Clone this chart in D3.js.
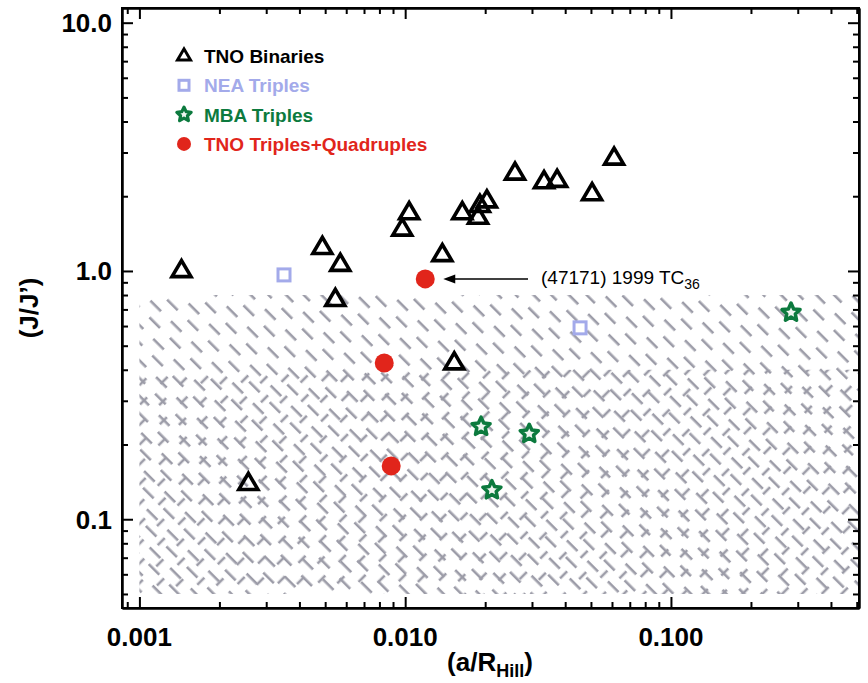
<!DOCTYPE html>
<html>
<head>
<meta charset="utf-8">
<script src="https://cdn.jsdelivr.net/npm/d3@7"></script>
<style>
  body { margin: 0; background: #fff; }
  svg { font-family: "Liberation Sans", Arial, Helvetica, sans-serif; }
  .tick-label { font-weight: bold; font-size: 26px; }
  .axis path, .axis line { stroke: #000; stroke-width: 2; }
</style>
</head>
<body>
<svg id="chart"></svg>
<script>
// data: [a/R_Hill, J/J']
const tnoBinaries = [
  [0.00144, 1.00], [0.00257, 0.139], [0.00488, 1.24], [0.0057, 1.06], [0.00546, 0.765],
  [0.00975, 1.47], [0.01035, 1.71], [0.0138, 1.16], [0.0153, 0.425], [0.0164, 1.71],
  [0.0188, 1.64], [0.0191, 1.83], [0.0203, 1.91], [0.0259, 2.47], [0.0333, 2.28],
  [0.0373, 2.31], [0.0505, 2.04], [0.0611, 2.84]
];
const neaTriples = [[0.0035, 0.964], [0.0455, 0.590]];
const mbaTriples = [[0.0193, 0.236], [0.0293, 0.221], [0.0212, 0.131], [0.283, 0.680]];
const tnoTriples = [[0.0119, 0.929], [0.00834, 0.426], [0.00886, 0.164]];

const xMajor = [0.001, 0.01, 0.1];
const yMajor = [0.1, 1, 10];
const xTickLabels = ["0.001", "0.010", "0.100"];
const yTickLabels = ["0.1", "1.0", "10.0"];

// shaded (excluded) zone
const hatchX = [0.001, 0.51];
const hatchY = [0.05, 0.8];
const crossY = [0.05, 0.4];

const legendItems = [
  {label: "TNO Binaries", color: "#000", sym: "tri"},
  {label: "NEA Triples", color: "#a3aaea", sym: "sq"},
  {label: "MBA Triples", color: "#0c7a3e", sym: "star"},
  {label: "TNO Triples+Quadruples", color: "#e1251b", sym: "dot"}
];

const W = 868, H = 683;
const svg = d3.select("#chart").attr("width", W).attr("height", H);

const x = d3.scaleLog().domain([0.00086, 0.51]).range([122, 859]);
const y = d3.scaleLog().domain([0.0439, 11.46]).range([608, 8]);

// hatch patterns: dashed lines, staggered row to row, then rotated
const defs = svg.append("defs");
function makePattern(id, angle, period, gap, len, shift) {
  const p = defs.append("pattern").attr("id", id)
    .attr("patternUnits", "userSpaceOnUse")
    .attr("width", period).attr("height", gap * 2)
    .attr("patternTransform", `rotate(${angle})`);
  [0, 1].forEach(r => {
    const off = r * shift;
    [-period, 0, period].forEach(k => {
      p.append("line")
        .attr("x1", off + k).attr("y1", gap * r + gap / 2)
        .attr("x2", off + k + len).attr("y2", gap * r + gap / 2)
        .attr("stroke", "#9c9ca8").attr("stroke-width", 2.6);
    });
  });
}
makePattern("hatchA", 45, 29, 12.5, 15, 11);
makePattern("hatchB", -45, 29, 14, 10, 16);

svg.append("rect")
  .attr("x", x(hatchX[0])).attr("y", y(hatchY[1]))
  .attr("width", x(hatchX[1]) - x(hatchX[0]))
  .attr("height", y(hatchY[0]) - y(hatchY[1]))
  .attr("fill", "url(#hatchA)");
svg.append("rect")
  .attr("x", x(hatchX[0])).attr("y", y(crossY[1]))
  .attr("width", x(hatchX[1]) - x(hatchX[0]))
  .attr("height", y(crossY[0]) - y(crossY[1]))
  .attr("fill", "url(#hatchB)");

// axes
const xMinor = [], yMinor = [];
[0.0001, 0.001, 0.01, 0.1].forEach(d => { for (let k = 2; k < 10; k++) xMinor.push(d * k); });
[0.01, 0.1, 1].forEach(d => { for (let k = 2; k < 10; k++) yMinor.push(d * k); });
const xm = xMinor.filter(v => v > 0.00086 && v < 0.51);
const ym = yMinor.filter(v => v > 0.0439 && v < 11.46);

function drawAxis(gen, tr, vals, size) {
  svg.append("g").attr("class", "axis").attr("transform", tr)
    .call(gen.tickValues(vals).tickSize(size).tickSizeOuter(0).tickFormat(""))
    .call(g => g.selectAll("text").remove());
}
drawAxis(d3.axisBottom(x), "translate(0,608)", xMajor, -11);
drawAxis(d3.axisBottom(x), "translate(0,608)", xm, -6);
drawAxis(d3.axisTop(x), "translate(0,8)", xMajor, -11);
drawAxis(d3.axisTop(x), "translate(0,8)", xm, -6);
drawAxis(d3.axisLeft(y), "translate(122,0)", yMajor, -11);
drawAxis(d3.axisLeft(y), "translate(122,0)", ym, -6);
drawAxis(d3.axisRight(y), "translate(859,0)", yMajor, -11);
drawAxis(d3.axisRight(y), "translate(859,0)", ym, -6);

// close the box
svg.append("rect").attr("x", 122).attr("y", 8).attr("width", 737).attr("height", 600)
  .attr("fill", "none").attr("stroke", "#000").attr("stroke-width", 2);

svg.selectAll(".xl").data(xMajor).join("text").attr("class", "tick-label")
  .attr("x", d => x(d)).attr("y", 646).attr("text-anchor", "middle")
  .text((d, i) => xTickLabels[i]);
svg.selectAll(".yl").data(yMajor).join("text").attr("class", "tick-label")
  .attr("x", 112).attr("y", d => y(d) + 9.5).attr("text-anchor", "end")
  .text((d, i) => yTickLabels[i]);

// axis titles
const xt = svg.append("text").attr("x", 490).attr("y", 671).attr("text-anchor", "middle")
  .attr("font-weight", "bold").attr("font-size", 26);
xt.append("tspan").text("(a/R");
xt.append("tspan").attr("font-size", 18).attr("dy", 6).text("Hill");
xt.append("tspan").attr("dy", -6).text(")");

svg.append("text").attr("transform", "translate(38,308) rotate(-90)")
  .attr("text-anchor", "middle").attr("font-weight", "bold").attr("font-size", 26)
  .text("(J/J’)");

// symbol paths
function triPath(s) { return `M${-s},${s * 0.6}L${s},${s * 0.6}L0,${-s * 1.1}Z`; }
function starPath(ro, ri) {
  let p = "";
  for (let k = 0; k < 10; k++) {
    const r = k % 2 ? ri : ro, a = -Math.PI / 2 + k * Math.PI / 5;
    p += (k ? "L" : "M") + (r * Math.cos(a)).toFixed(2) + "," + (r * Math.sin(a)).toFixed(2);
  }
  return p + "Z";
}
function drawSym(g, sym, color, big) {
  if (sym === "tri") {
    g.append("path").attr("d", triPath(big ? 9.5 : 6.5)).attr("fill", "none")
      .attr("stroke", color).attr("stroke-width", big ? 3.6 : 3).attr("stroke-linejoin", "miter");
  } else if (sym === "sq") {
    const s = big ? 6 : 5;
    g.append("rect").attr("x", -s).attr("y", -s).attr("width", 2 * s).attr("height", 2 * s)
      .attr("fill", "none").attr("stroke", color).attr("stroke-width", 3);
  } else if (sym === "star") {
    g.append("path").attr("d", big ? starPath(9.5, 4.5) : starPath(7.5, 3.6)).attr("fill", "#eef6f0")
      .attr("stroke", color).attr("stroke-width", big ? 3.5 : 3.2).attr("stroke-linejoin", "round");
  } else {
    g.append("circle").attr("r", big ? 9.5 : 7).attr("fill", color);
  }
}

const series = [
  [tnoBinaries, legendItems[0]], [neaTriples, legendItems[1]],
  [mbaTriples, legendItems[2]], [tnoTriples, legendItems[3]]
];
series.forEach(([data, it]) => {
  data.forEach(d => {
    const g = svg.append("g").attr("transform", `translate(${x(d[0])},${y(d[1])})`);
    drawSym(g, it.sym, it.color, true);
  });
});

// legend
legendItems.forEach((it, i) => {
  const ly = 56 + i * 29.3;
  const g = svg.append("g").attr("transform", `translate(184,${ly})`);
  drawSym(g, it.sym, it.color, false);
  svg.append("text").attr("x", 204).attr("y", ly + 7).attr("fill", it.color)
    .attr("font-weight", "bold").attr("font-size", 19).text(it.label);
});

// annotation
const tc = tnoTriples[0];
const ay = y(tc[1]);
svg.append("line").attr("x1", 528).attr("y1", ay).attr("x2", x(tc[0]) + 28).attr("y2", ay)
  .attr("stroke", "#000").attr("stroke-width", 1.5);
svg.append("path")
  .attr("d", `M${x(tc[0]) + 18},${ay}l12,-4.5l0,9z`).attr("fill", "#000");
const at = svg.append("text").attr("x", 541).attr("y", ay + 5.5).attr("font-size", 19);
at.append("tspan").text("(47171) 1999 TC");
at.append("tspan").attr("font-size", 14).attr("dy", 5).text("36");
</script>
</body>
</html>
